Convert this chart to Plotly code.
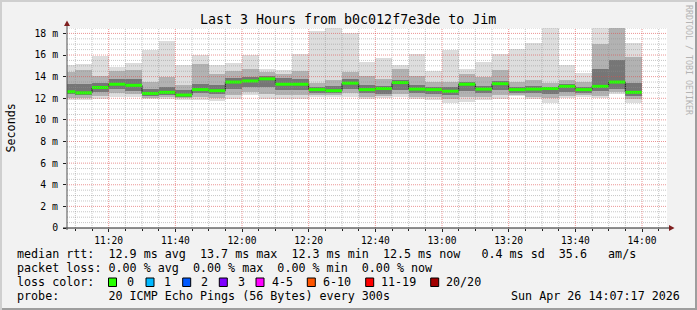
import plotly.graph_objects as go
import pandas as pd

# ---------------- data ----------------
# end time of each 300 s step (first one is clipped by the 3 h window)
block_end = pd.date_range("2026-04-26 11:10", periods=35, freq="5min")

median_ms = [12.6, 12.5, 13.0, 13.3, 13.2, 12.45, 12.55, 12.3, 12.8, 12.7,
             13.5, 13.6, 13.8, 13.3, 13.3, 12.8, 12.7, 13.4, 12.8, 12.9,
             13.45, 12.85, 12.8, 12.65, 13.3, 12.85, 13.35, 12.8, 12.85, 12.9,
             13.1, 12.8, 13.1, 13.5, 12.55]
max_ms = [15.1, 15.15, 15.95, 14.9, 15.3, 16.45, 17.3, 15.1, 16.0, 15.05,
          15.3, 16.0, 14.75, 14.65, 16.1, 18.2, 18.5, 18.0, 15.4, 15.7,
          15.05, 16.05, 14.5, 16.45, 14.75, 15.35, 16.05, 16.6, 17.15, 18.5,
          15.05, 14.35, 18.5, 18.6, 17.15]
upper2_ms = [14.4, 14.6, 14.1, 14.5, 14.6, 13.5, 14.0, 13.2, 15.2, 14.2,
             14.5, 14.7, 14.4, 14.2, 14.5, 13.4, 13.7, 14.4, 14.1, 13.8,
             14.7, 14.1, 13.5, 13.5, 14.2, 14.0, 14.6, 13.5, 13.7, 13.4,
             13.7, 13.5, 17.0, 18.5, 15.8]
upper3_ms = [13.35, 13.35, 13.4, 13.8, 13.8, 12.9, 13.05, 12.75, 13.35, 13.2,
             13.9, 14.0, 14.1, 13.9, 13.8, 13.0, 13.1, 13.8, 13.2, 13.1,
             13.7, 13.2, 13.0, 13.0, 13.5, 13.1, 13.6, 13.0, 13.1, 13.0,
             13.3, 13.0, 14.7, 15.5, 13.4]
lower3_ms = [12.35, 12.3, 12.6, 12.9, 12.7, 12.2, 12.3, 12.1, 12.45, 12.4,
             12.9, 13.0, 13.0, 12.8, 12.8, 12.5, 12.5, 12.9, 12.5, 12.4,
             12.8, 12.5, 12.4, 12.3, 12.7, 12.5, 12.8, 12.5, 12.5, 12.4,
             12.6, 12.5, 12.7, 12.9, 12.2]
lower2_ms = [12.0, 12.0, 12.2, 12.5, 12.4, 12.05, 12.1, 12.0, 12.15, 12.0,
             12.3, 12.6, 12.4, 12.3, 12.3, 12.3, 12.3, 12.5, 12.1, 12.2,
             12.4, 12.1, 12.1, 11.9, 12.1, 12.1, 12.3, 12.3, 12.1, 12.0,
             12.2, 12.3, 12.2, 12.6, 11.9]
min_ms = [11.8, 11.85, 11.9, 12.15, 12.1, 11.9, 11.9, 11.85, 11.85, 11.75,
          11.9, 12.3, 11.9, 11.95, 11.9, 12.15, 12.15, 12.15, 11.9, 12.05,
          12.1, 11.9, 11.85, 11.6, 11.7, 11.85, 11.9, 12.2, 11.9, 11.6,
          12.0, 12.15, 12.0, 12.35, 11.6]

y_tick_vals = [0, 2, 4, 6, 8, 10, 12, 14, 16, 18]
y_tick_text = ["0", "2 m", "4 m", "6 m", "8 m", "10 m", "12 m", "14 m", "16 m", "18 m"]

loss_labels = ["0", "1", "2", "3", "4-5", "6-10", "11-19", "20/20"]
loss_colors = ["#26ff00", "#00b8ff", "#0059ff", "#7e00ff", "#ff00ff", "#ff5500", "#ff0000", "#a10000"]

title_text = "Last 3 Hours from b0c012f7e3de to Jim"
line_rtt = "median rtt:  12.9 ms avg  13.7 ms max  12.3 ms min  12.5 ms now   0.4 ms sd  35.6   am/s"
line_loss = "packet loss: 0.00 % avg  0.00 % max  0.00 % min  0.00 % now"
line_probe = "probe:       20 ICMP Echo Pings (56 Bytes) every 300s"
stamp_text = "Sun Apr 26 14:07:17 2026"

# ---------------- geometry ----------------
W, H = 697, 310
L, R, T, B = 67, 30, 28, 82
PW, PH = W - L - R, H - T - B
BOT = H - B

def px(x):
    return (x - L) / PW

def py(y):
    return (BOT - y) / PH

MONO = "DejaVu Sans Mono"
step = pd.Timedelta("5min")
centers = block_end - step / 2
block_start = block_end - step
starts = list(block_start) + [block_end[-1]]

fig = go.Figure()

def band(lo, hi, color):
    fig.add_trace(go.Bar(
        x=centers, base=lo, y=[h - l for h, l in zip(hi, lo)],
        width=300000, marker=dict(color=color, line=dict(width=0)),
        hoverinfo="skip"))

band(min_ms, max_ms, "#dddddd")
band(lower2_ms, upper2_ms, "#b2b2b2")
band(lower3_ms, upper3_ms, "#767676")

# black median step line (visible at the step transitions)
fig.add_trace(go.Scatter(x=starts, y=median_ms + [median_ms[-1]], mode="lines",
                         line=dict(color="#202020", width=1, shape="hv"), hoverinfo="skip"))
# green median (loss 0) stripe: one horizontal segment per step
seg_x, seg_y = [], []
for s, e, m in zip(block_start, block_end, median_ms):
    seg_x += [s, e, None]
    seg_y += [m, m, None]
fig.add_trace(go.Scatter(x=seg_x, y=seg_y, mode="lines", connectgaps=False,
                         line=dict(color=loss_colors[0], width=3), hoverinfo="skip"))

shapes = []
# grid drawn on top, like rrdtool
for k in range(1, 38):
    v = k * 0.5
    if v > 18.5:
        break
    major = (k % 4 == 0)
    shapes.append(dict(type="line", xref="paper", yref="y", x0=0, x1=1, y0=v, y1=v, layer="above",
                       line=dict(color="rgba(222,79,79,0.6)" if major else "rgba(143,143,143,0.5)",
                                 width=1, dash="1px,1px")))
t = pd.Timestamp("2026-04-26 11:10")
while t <= pd.Timestamp("2026-04-26 14:05"):
    major = (t.minute % 20 == 0)
    shapes.append(dict(type="line", xref="x", yref="paper", x0=t, x1=t, y0=0, y1=1, layer="above",
                       line=dict(color="rgba(222,79,79,0.6)" if major else "rgba(143,143,143,0.5)",
                                 width=1, dash="1px,1px")))
    t += step

# axes lines and arrows
shapes.append(dict(type="line", xref="paper", yref="paper", x0=px(63), x1=px(670), y0=py(BOT), y1=py(BOT),
                   line=dict(color="#1f1f1f", width=1), layer="above"))
shapes.append(dict(type="line", xref="paper", yref="paper", x0=px(L), x1=px(L), y0=py(BOT + 2), y1=py(25),
                   line=dict(color="#505050", width=1), layer="above"))
shapes.append(dict(type="path", xref="paper", yref="paper",
                   path=f"M {px(64)},{py(26)} L {px(70)},{py(26)} L {px(67)},{py(20.5)} Z",
                   fillcolor="#7f1f1f", line=dict(width=0), layer="above"))
shapes.append(dict(type="path", xref="paper", yref="paper",
                   path=f"M {px(669)},{py(BOT - 3)} L {px(669)},{py(BOT + 3)} L {px(674.5)},{py(BOT)} Z",
                   fillcolor="#7f1f1f", line=dict(width=0), layer="above"))

# outer frame (shade A top/left, shade B bottom/right)
shapes.append(dict(type="rect", xref="paper", yref="paper", x0=px(0), x1=px(W), y0=py(0), y1=py(2),
                   fillcolor="#cfcfcf", line=dict(width=0)))
shapes.append(dict(type="rect", xref="paper", yref="paper", x0=px(0), x1=px(2), y0=py(0), y1=py(H),
                   fillcolor="#cfcfcf", line=dict(width=0)))
shapes.append(dict(type="rect", xref="paper", yref="paper", x0=px(2), x1=px(W), y0=py(H - 2), y1=py(H),
                   fillcolor="#9e9e9e", line=dict(width=0)))
shapes.append(dict(type="rect", xref="paper", yref="paper", x0=px(W - 2), x1=px(W), y0=py(2), y1=py(H),
                   fillcolor="#9e9e9e", line=dict(width=0)))

# loss colour boxes
box_x = [108.5, 146, 182.7, 219.3, 256, 307.3, 365.7, 430.7]
label_x = [126, 163.3, 200, 236.7, 270.7, 321.7, 380, 445]
for bx, col in zip(box_x, loss_colors):
    shapes.append(dict(type="rect", xref="paper", yref="paper", x0=px(bx), x1=px(bx + 8),
                       y0=py(278), y1=py(286.5), fillcolor=col, line=dict(color="#000000", width=1)))

def nb(s):
    return s.replace(" ", "\u00a0")

ann = []
def text(x, y, s, size, anchor="left", color="#000000", angle=0):
    ann.append(dict(xref="paper", yref="paper", x=px(x), y=py(y), text=nb(s), showarrow=False,
                    xanchor=anchor, yanchor="middle", textangle=angle,
                    font=dict(family=MONO, size=size, color=color), borderpad=0))

text(348, 19, title_text, 13.3, anchor="center")
text(10.5, 128, "Seconds", 11.7, anchor="center", angle=-90)
text(689, 60, "RRDTOOL / TOBI OETIKER", 8.3, anchor="center", color="#b4b4b4", angle=90)
text(16, 254.3, line_rtt, 11.7)
text(16, 268.3, line_loss, 11.7)
text(16, 282.3, "loss color:", 11.7)
for lx, lab in zip(label_x, loss_labels):
    text(lx, 282.3, lab, 11.7)
text(16, 296, line_probe, 11.7)
text(681, 296, stamp_text, 11.7, anchor="right")

fig.update_layout(
    width=W, height=H, margin=dict(l=L, r=R, t=T, b=B, pad=0),
    paper_bgcolor="#f2f2f2", plot_bgcolor="#ffffff",
    barmode="overlay", bargap=0, showlegend=False,
    shapes=shapes, annotations=ann,
    xaxis=dict(type="date", range=["2026-04-26 11:07:30", "2026-04-26 14:07:30"],
               tick0="2026-04-26 11:00", dtick=1200000, tickformat="%H:%M",
               showgrid=False, zeroline=False, showline=False,
               ticks="outside", ticklen=3, tickcolor="#1f1f1f",
               tickfont=dict(family=MONO, size=9.6, color="#000000"),
               minor=dict(dtick=300000, ticks="outside", ticklen=2, tickcolor="#1f1f1f", showgrid=False),
               fixedrange=True),
    yaxis=dict(range=[0, 18.5], tickvals=y_tick_vals, ticktext=y_tick_text,
               showgrid=False, zeroline=False, showline=False,
               ticks="outside", ticklen=3, tickcolor="#1f1f1f",
               tickfont=dict(family=MONO, size=9.8, color="#000000"),
               ticklabelstandoff=3,
               fixedrange=True),
)

fig.write_html("out.html")
